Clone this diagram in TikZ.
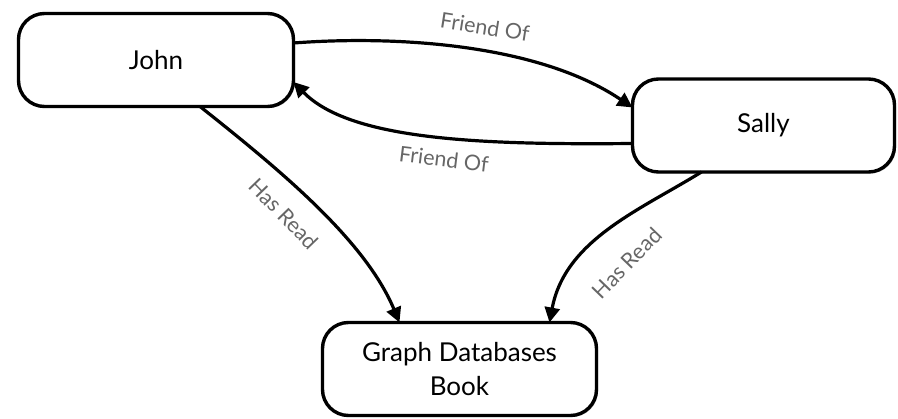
\documentclass[tikz,border=0pt]{standalone}
\usepackage{fontspec}
\setmainfont{Lato}
\usetikzlibrary{arrows.meta,shadows}
\definecolor{lbl}{HTML}{666666}
\begin{document}
\begin{tikzpicture}[x=1pt,y=-1pt,
  entity/.style={draw=black, line width=3.4pt, rounded corners=26pt, fill=white,
    minimum width=#1, minimum height=93pt, inner sep=0pt, outer sep=0pt,
    font=\fontsize{26}{34}\selectfont, align=center,
    drop shadow={shadow xshift=1.5pt, shadow yshift=-1.5pt, opacity=0.3, fill=black}},
  rel/.style={line width=3.2pt, -{Triangle[length=15pt,width=15pt]}},
  rlabel/.style={text=lbl, font=\fontsize{21.5}{24}\selectfont, inner sep=1pt}]
\useasboundingbox (0,0) rectangle (898,419);
\node[entity=275pt] (john) at (156,60) {John};
\node[entity=262pt] (sally) at (763.5,125.5) {Sally};
\node[entity=274pt] (book) at (459.5,369) {Graph Databases\\Book};

\draw[rel] ([yshift=17pt]john.east) .. controls (400,35) and (540,45) .. ([yshift=18pt]sally.west);
\draw[rel] ([yshift=-18pt]sally.west) .. controls (480,145) and (350,140) .. ([yshift=-22pt]john.east);
\draw[rel] ([xshift=44pt]john.south) .. controls (280,170) and (365,240) .. ([xshift=-60pt]book.north);
\draw[rel] ([xshift=-62pt]sally.south) .. controls (640,210) and (565,240) .. ([xshift=90pt]book.north);

\node[rlabel, rotate=-9] (l1) at (485,27) {Friend Of};
\node[rlabel, rotate=-7] (l2) at (444,159) {Friend Of};
\node[rlabel, rotate=-46] (l3) at (284,214) {Has Read};
\node[rlabel, rotate=46] (l4) at (627,263) {Has Read};
\end{tikzpicture}
\end{document}
